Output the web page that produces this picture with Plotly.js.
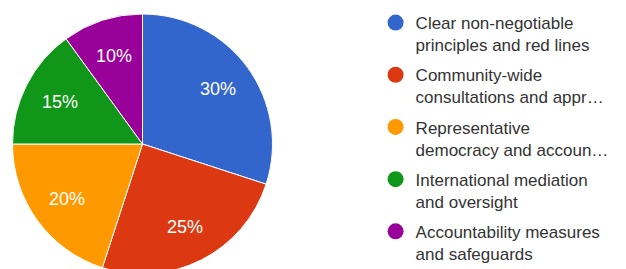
<!DOCTYPE html>
<html><head><meta charset="utf-8">
<script src="https://cdn.plot.ly/plotly-3.0.1.min.js"></script>
<style>html,body{margin:0;padding:0;overflow:hidden;background:#fff}#c{width:626px;height:290px}</style>
</head><body><div id="c"></div>
<script>
const labels = ["Clear non-negotiable<br>principles and red lines","Community-wide<br>consultations and appr…","Representative<br>democracy and accoun…","International mediation<br>and oversight","Accountability measures<br>and safeguards"];
const values = [30, 25, 20, 15, 10];
const colors = ["#3366cc","#dc3912","#ff9900","#109618","#990099"];

const W = 626, H = 290;
const cx = 142.5, cy = 144, R = 130, labelR = 93;
const font = "Liberation Sans, Arial, sans-serif";

const traces = [{
  type: "pie", labels: labels, values: values, sort: false, direction: "clockwise", rotation: 0,
  marker: {colors: colors, line: {color: "#fff", width: 1}},
  textinfo: "none", showlegend: false, hoverinfo: "none",
  domain: {x: [(cx - R) / W, (cx + R) / W], y: [1 - (cy + R) / H, 1 - (cy - R) / H]}
}];
labels.forEach((l, i) => traces.push({
  type: "scatter", mode: "markers", x: [null], y: [null], name: l, legendgroup: "g" + i,
  marker: {symbol: "circle", size: 18, color: colors[i]}, showlegend: true, hoverinfo: "none"
}));

// percentage labels placed on each slice bisector
const total = values.reduce((a, b) => a + b, 0);
let cum = 0;
const annotations = values.map((v) => {
  const mid = (cum + v / 2) / total * 2 * Math.PI;
  cum += v;
  return {
    xref: "paper", yref: "paper",
    x: (cx + labelR * Math.sin(mid)) / W, y: 1 - (cy - labelR * Math.cos(mid)) / H,
    xanchor: "center", yanchor: "middle", showarrow: false,
    text: Math.round(v / total * 100) + "%",
    font: {family: font, size: 18, color: "#fff"}
  };
});

Plotly.newPlot("c", traces, {
  width: W, height: H, margin: {l: 0, r: 0, t: 0, b: 0},
  paper_bgcolor: "#fff", plot_bgcolor: "#fff",
  xaxis: {visible: false}, yaxis: {visible: false},
  annotations: annotations,
  legend: {x: 0.6, xanchor: "left", y: 1 - 5 / H, yanchor: "top", valign: "top",
    font: {family: font, size: 17, color: "#333"},
    tracegroupgap: 5}
}, {displayModeBar: false, staticPlot: true});
</script></body></html>
